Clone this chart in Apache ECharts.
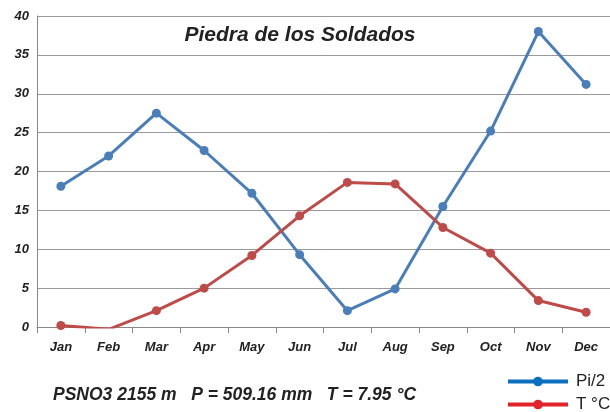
<!DOCTYPE html>
<html><head><meta charset="utf-8">
<script src="https://cdn.jsdelivr.net/npm/echarts@6/dist/echarts.min.js"></script>
<style>html,body{margin:0;padding:0;background:#fff}#c{width:610px;height:412px}</style>
</head><body><div id="c"></div>
<script>
var months = ['Jan','Feb','Mar','Apr','May','Jun','Jul','Aug','Sep','Oct','Nov','Dec'];
var pi2 = [18.1, 22.0, 27.5, 22.7, 17.2, 9.3, 2.1, 4.9, 15.5, 25.2, 38.0, 31.2];
var temp = [0.2, -0.3, 2.1, 5.0, 9.2, 14.3, 18.6, 18.4, 12.8, 9.5, 3.4, 1.9];
var yTicks = [0, 5, 10, 15, 20, 25, 30, 35, 40];
var title = 'Piedra de los Soldados';
var footer = 'PSNO3 2155 m   P = 509.16 mm   T = 7.95 °C';

var chart = echarts.init(document.getElementById('c'), null, {renderer:'canvas'});
var lbl = {fontFamily:'Liberation Sans, Arial, sans-serif', fontWeight:'bold', fontStyle:'italic', fontSize:13, color:'#222'};
var legText = {fontFamily:'Liberation Sans Narrow, Liberation Sans, Arial, sans-serif', fontSize:17, color:'#222', padding:[0,0,0,3]};
chart.setOption({
  animation:false,
  backgroundColor:'#fff',
  title:[{text:title, left:295, top:20, textAlign:'center',
          textStyle:{fontFamily:'Liberation Sans, Arial, sans-serif', fontWeight:'bold', fontStyle:'italic', fontSize:21, color:'#222'}},
         {text:footer, left:48, top:381,
          textStyle:{fontFamily:'Liberation Sans Narrow, Liberation Sans, Arial, sans-serif', fontWeight:'bold', fontStyle:'italic', fontSize:17.5, color:'#222'}}],
  legend:[
    {left:506, top:373, itemWidth:60, itemHeight:12, padding:0, textStyle:legText,
     data:[{name:'Pi/2', itemStyle:{color:'#0B6FC0'}, lineStyle:{color:'#0B6FC0', width:4}}]},
    {left:506, top:396, itemWidth:60, itemHeight:12, padding:0, textStyle:legText,
     data:[{name:'T °C', itemStyle:{color:'#E3232B'}, lineStyle:{color:'#E3232B', width:4}}]}
  ],
  grid:{left:37, right:0, top:16, bottom:85},
  xAxis:{type:'category', data:months, boundaryGap:true,
    axisLine:{lineStyle:{color:'#888'}}, axisTick:{show:true, length:6, lineStyle:{color:'#888'}},
    axisLabel:Object.assign({margin:14}, lbl)},
  yAxis:{type:'value', min:0, max:40, interval:5,
    axisLine:{show:true, lineStyle:{color:'#888'}}, axisTick:{show:false},
    splitLine:{lineStyle:{color:'#999', width:1}},
    axisLabel:Object.assign({margin:8, formatter:function(v){return yTicks.indexOf(v)>=0?String(v):'';}}, lbl)},
  series:[
    {name:'Pi/2', type:'line', data:pi2, symbol:'circle', symbolSize:9,
     lineStyle:{color:'#4A7EBB', width:3}, itemStyle:{color:'#4A7EBB'}},
    {name:'T °C', type:'line', data:temp, symbol:'circle', symbolSize:9,
     lineStyle:{color:'#BE4B48', width:3}, itemStyle:{color:'#BE4B48'}}
  ]
});
</script></body></html>
